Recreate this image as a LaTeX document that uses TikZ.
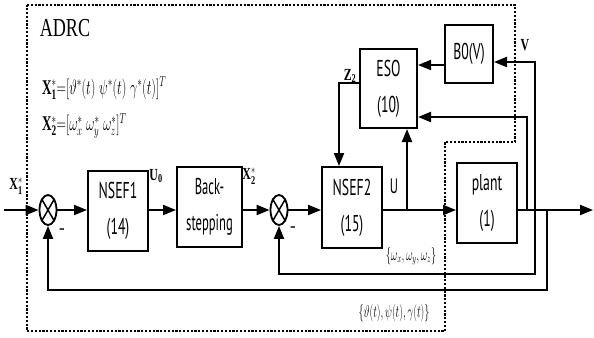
\documentclass[tikz,border=0pt]{standalone}
\usepackage{fontspec}
\usepackage{graphicx}
\setmainfont{Liberation Serif}
\newfontfamily\boxf{PT Sans}
\usetikzlibrary{arrows.meta,shapes.geometric,calc}
\newcommand\nr[2][0.6]{\scalebox{#1}[1]{#2}}
\tikzset{
  blk/.style={draw,line width=2bp,minimum width=#1,inner sep=0pt,align=center,font=\boxf\fontsize{23}{36}\selectfont},
  sumj/.style={draw,ellipse,line width=1.8bp,minimum width=17bp,minimum height=30bp,inner sep=0pt},
  wire/.style={line width=2bp},
  arr/.style={wire,-{Triangle[length=13bp,width=10bp]}},
  bound/.style={line width=2.6bp,dash pattern=on 2.2bp off 1.6bp},
  lbl/.style={inner sep=0pt,font=\fontsize{17}{20}\selectfont\bfseries},
}
\begin{document}
\begin{tikzpicture}[x=1bp,y=-1bp]
\useasboundingbox (0,0) rectangle (594,337);
% boundary
\draw[bound] (27,5) -- (515,5) -- (515,142) -- (445,142) -- (445,331) -- (27,331) -- cycle;
% text
\node[inner sep=0pt,font=\fontsize{26}{28}\selectfont] (adrc) at (65,28) {\nr[0.7]{ADRC}};
\node[inner sep=0pt,anchor=west,font=\fontsize{21}{22}\selectfont] (x1f) at (42,88) {\nr[0.63]{$\mathbf{X}_{\mathbf{1}}^{*}{=}[\vartheta^{*}(t)\;\psi^{*}(t)\;\gamma^{*}(t)]^{T}$}};
\node[inner sep=0pt,anchor=west,font=\fontsize{21}{22}\selectfont] (x2f) at (42,126) {\nr[0.63]{$\mathbf{X}_{\mathbf{2}}^{*}{=}[\omega_x^{*}\;\omega_y^{*}\;\omega_z^{*}]^{T}$}};
% blocks
\node[blk=60bp,minimum height=80bp] (nsef1) at (118,211) {\nr{NSEF1}\\\nr{(14)}};
\node[blk=65bp,minimum height=80bp] (back) at (209.5,206.5) {\nr[0.55]{Back-}\\\nr[0.55]{stepping}};
\node[blk=60bp,minimum height=81bp] (nsef2) at (352,207.5) {\nr{NSEF2}\\\nr{(15)}};
\node[blk=60bp,minimum height=80bp] (plant) at (487,203) {\nr{plant}\\\nr{(1)}};
\node[blk=57bp,minimum height=79bp] (eso) at (388.5,88.5) {\nr{ESO}\\\nr{(10)}};
\node[blk=48bp,minimum height=58bp] (bo) at (469,54) {\nr{B0(V)}};
\node[sumj] (j1) at (48,210) {};
\node[sumj] (j2) at (279,210) {};
\foreach \j in {j1,j2}{
  \draw[line width=1.5bp] (\j.60) -- (\j.240) (\j.120) -- (\j.300);
}
% coordinates
\coordinate (in) at (4,210);
\coordinate (u) at (407,210);
\coordinate (a) at (527,210);
\coordinate (b) at (535,210);
\coordinate (c) at (547,210);
\coordinate (out) at (593,210);
\coordinate (p2) at (527,117);
\coordinate (v) at (535,62);
\coordinate (f1) at (535,274);
\coordinate (f2) at (547,290);
\coordinate (z) at (339,83);
% connectors
\draw[arr] (in) -- (j1);
\draw[arr] (j1) -- (nsef1.west |- j1);
\draw[arr] (nsef1.east |- j1) -- (back.west |- j1);
\draw[arr] (back.east |- j2) -- (j2);
\draw[arr] (j2) -- (nsef2.west |- j2);
\draw[arr] (nsef2.east |- u) -- (plant.west |- u);
\draw[arr] (u) -- (u |- eso.south);
\draw[arr] (plant.east |- u) -- (out);
\draw[arr] (a) -- (p2) -- (p2 -| eso.east);
\draw[arr] (b) -- (v) -- (v -| bo.east);
\draw[arr] (bo.west |- 0,65) -- (eso.east |- 0,65);
\draw[arr] (b) -- (f1) -- (f1 -| j2) -- (j2.south);
\draw[arr] (c) -- (f2) -- (f2 -| j1) -- (j1.south);
\draw[arr] (z -| eso.west) -- (z) -- (z |- nsef2.north);
% labels
\node[lbl] (lx1) at (16,186) {\nr[0.7]{$\mathbf{X}_{\mathbf{1}}^{*}$}};
\node[lbl] (lu0) at (156,176) {\nr[0.7]{U$_\mathbf{0}$}};
\node[lbl] (lx2) at (249,176) {\nr[0.7]{$\mathbf{X}_{\mathbf{2}}^{*}$}};
\node[lbl] (m1) at (62,231) {-};
\node[lbl] (m2) at (293,229) {-};
\node[lbl] (lz2) at (350,76) {\nr[0.7]{Z$_\mathbf{2}$}};
\node[inner sep=0pt,font=\boxf\fontsize{21}{22}\selectfont] (lu) at (394,186) {\nr{U}};
\node[lbl] (lv) at (525,45) {\nr[0.7]{V}};
\node[inner sep=0pt,font=\fontsize{18}{20}\selectfont] (lw) at (411,256) {\nr[0.6]{$\{\omega_x,\omega_y,\omega_z\}$}};
\node[inner sep=0pt,font=\fontsize{18}{20}\selectfont] (lt) at (394,313) {\nr[0.6]{$\{\vartheta(t),\psi(t),\gamma(t)\}$}};
\end{tikzpicture}
\end{document}
